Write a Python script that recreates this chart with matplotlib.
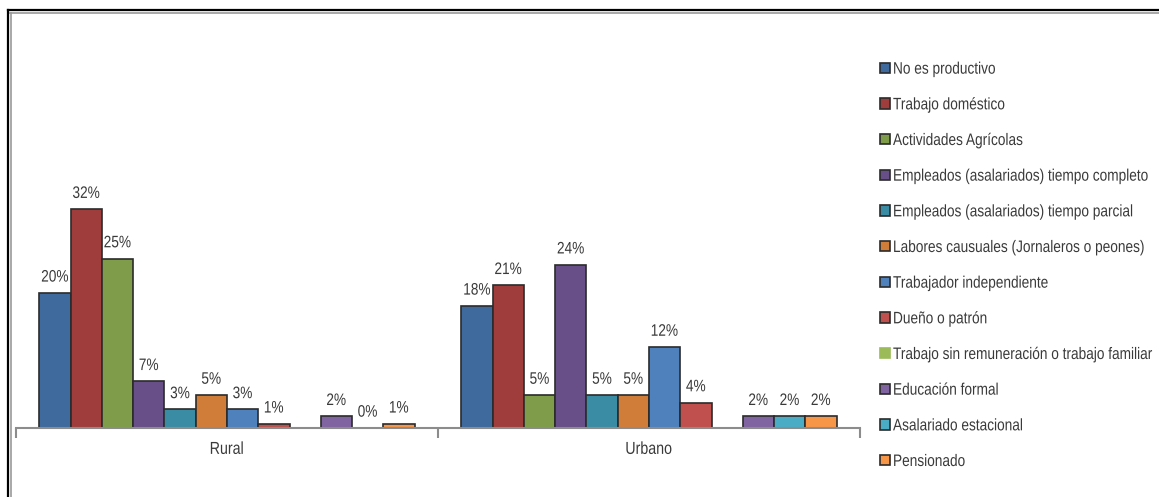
import matplotlib
matplotlib.use("Agg")
import matplotlib.pyplot as plt
import numpy as np
from matplotlib.patches import Patch
from matplotlib.lines import Line2D
from matplotlib.patheffects import AbstractPathEffect
from matplotlib.transforms import Affine2D

plt.rcParams['font.family'] = ['Liberation Sans', 'DejaVu Sans']


class Narrow(AbstractPathEffect):
    # squeeze glyphs horizontally to mimic a narrow font
    def __init__(self, s=0.82, center=True):
        super().__init__()
        self.s = s
        self.center = center

    def draw_path(self, renderer, gc, tpath, affine, rgbFace=None):
        dx = 0
        if self.center:
            dx = (1 - self.s) * tpath.get_extents().width / 2
        aff = Affine2D().scale(self.s, 1).translate(dx, 0) + affine
        renderer.draw_path(gc, tpath, aff, rgbFace)


def squeeze(t, s=0.82, center=True):
    # draw the text narrow and report the narrow box as its extent
    t.set_path_effects([Narrow(s, center)])
    orig = t.get_window_extent

    def extent(renderer=None, dpi=None):
        bb = orig(renderer, dpi)
        w = bb.width * s
        x0 = bb.x0 + (bb.width - w) / 2 if center else bb.x0
        return bb.from_bounds(x0, bb.y0, w, bb.height)
    t.get_window_extent = extent


categories = ["Rural", "Urbano"]
series = ["No es productivo", "Trabajo doméstico", "Actividades Agrícolas",
          "Empleados (asalariados) tiempo completo", "Empleados (asalariados) tiempo parcial",
          "Labores causuales (Jornaleros o peones)", "Trabajador independiente",
          "Dueño o patrón", "Trabajo sin remuneración o trabajo familiar",
          "Educación formal", "Asalariado estacional", "Pensionado"]
# percent values per series (nan = no data)
rural = [19.7, 31.9, 24.7, 6.8, 2.7, 4.8, 2.7, 0.6, np.nan, 1.7, 0.0, 0.6]
urbano = [17.8, 20.8, 4.8, 23.8, 4.8, 4.8, 11.8, 3.7, np.nan, 1.7, 1.7, 1.7]
colors = ["#3E6A9E", "#9E3D3B", "#7F9C4A", "#684F87", "#3A8CA4", "#D07D3A",
          "#4F81BD", "#C0504D", "#9BBB59", "#8064A2", "#4BACC6", "#F79646"]

W, H = 1159, 497
fig = plt.figure(figsize=(W / 100, H / 100), dpi=100)
ax = fig.add_axes([16 / W, (H - 428) / H, 844 / W, 240 / H])

n = len(series)
bw = 0.889 / n
x = np.arange(len(categories))
txt = "#3a3a3a"
for i in range(n):
    vals = np.array([rural[i], urbano[i]])
    pos = x + (i - (n - 1) / 2) * bw
    ax.bar(pos, vals, width=bw, color=colors[i], edgecolor="#2b2b2b", linewidth=1.2, zorder=2)
    for p, v in zip(pos, vals):
        if np.isnan(v):
            continue
        a = ax.annotate(f"{v:.0f}%", (p, v), xytext=(0, 6), textcoords="offset points",
                        ha="center", va="bottom", fontsize=12, color=txt)
        squeeze(a)

ax.set_xlim(-0.5, 1.5)
ax.set_ylim(0, 35)
for s in ["top", "right", "left"]:
    ax.spines[s].set_visible(False)
ax.spines["bottom"].set_color("#8c8c8c")
ax.spines["bottom"].set_linewidth(1.5)
ax.set_yticks([])
ax.set_xticks([-0.5, 0.5, 1.5])
ax.set_xticklabels([])
ax.tick_params(axis="x", which="major", length=7, width=1.5, color="#8c8c8c", direction="out")
ax.set_xticks(x, minor=True)
ax.set_xticklabels(categories, minor=True, fontsize=12.5, color=txt)
ax.tick_params(axis="x", which="minor", length=0, pad=10)
for t in ax.get_xticklabels(minor=True):
    squeeze(t)

handles = []
for i in range(n):
    ec = colors[i] if np.all(np.isnan([rural[i], urbano[i]])) else "#2b2b2b"
    handles.append(Patch(facecolor=colors[i], edgecolor=ec, linewidth=1.2))
leg = fig.legend(handles, series, loc="upper left", bbox_to_anchor=(873 / W, 1 - 55 / H),
                 frameon=False, fontsize=12, handlelength=0.6, handleheight=0.6,
                 handletextpad=0.2, labelspacing=1.24, borderaxespad=0)
for t in leg.get_texts():
    t.set_color(txt)
    squeeze(t, center=False)

# outer frame (top and left edges only)
fig.add_artist(Line2D([8 / W, 1], [1 - 10 / H, 1 - 10 / H], color="black", lw=1.6, transform=fig.transFigure))
fig.add_artist(Line2D([10 / W, 1], [1 - 12.5 / H, 1 - 12.5 / H], color="#999999", lw=1.2, transform=fig.transFigure))
fig.add_artist(Line2D([8 / W, 8 / W], [0, 1 - 10 / H], color="black", lw=1.6, transform=fig.transFigure))
fig.add_artist(Line2D([10.5 / W, 10.5 / W], [0, 1 - 12.5 / H], color="#999999", lw=1.2, transform=fig.transFigure))

fig.savefig("out.png", dpi=100)
